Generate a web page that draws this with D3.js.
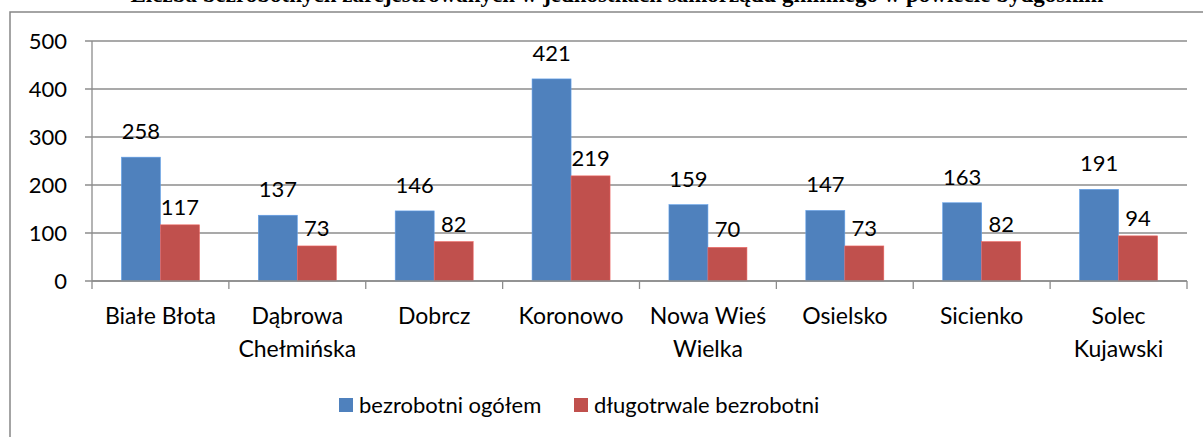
<!DOCTYPE html>
<html>
<head>
<meta charset="utf-8">
<script src="https://cdn.jsdelivr.net/npm/d3@7"></script>
<style>
  html, body { margin: 0; padding: 0; background: #fff; }
  svg { display: block; }
</style>
</head>
<body>
<svg id="chart" width="1203" height="437"></svg>
<script>
const titleText = "Liczba bezrobotnych zarejestrowanych w jednostkach samorządu gminnego w powiecie bydgoskim";
const categories = ["Białe Błota", "Dąbrowa Chełmińska", "Dobrcz", "Koronowo", "Nowa Wieś Wielka", "Osielsko", "Sicienko", "Solec Kujawski"];
const categoryLines = [["Białe Błota"], ["Dąbrowa", "Chełmińska"], ["Dobrcz"], ["Koronowo"], ["Nowa Wieś", "Wielka"], ["Osielsko"], ["Sicienko"], ["Solec", "Kujawski"]];
const seriesNames = ["bezrobotni ogółem", "długotrwale bezrobotni"];
const bezrobotniOgolem = [258, 137, 146, 421, 159, 147, 163, 191];
const dlugotrwaleBezrobotni = [117, 73, 82, 219, 70, 73, 82, 94];
const yTicks = [0, 100, 200, 300, 400, 500];

(function () {
const colors = ["#4F81BD", "#C0504D"];
const font = "Lato, 'Open Sans', sans-serif";
const svg = d3.select("#chart");

// title (cut off at the top edge, as in the source)
svg.append("text")
  .attr("x", 617).attr("y", 2)
  .attr("text-anchor", "middle")
  .style("font-family", "'Liberation Serif', 'Times New Roman', serif")
  .style("font-weight", "bold")
  .style("font-size", "23px")
  .text(titleText);

// chart frame
svg.append("rect")
  .attr("x", 10).attr("y", 12)
  .attr("width", 1203).attr("height", 440)
  .attr("fill", "#fff")
  .attr("stroke", "#868686").attr("stroke-width", 1.5);

const mLeft = 92, mRight = 1187, mTop = 41, mBottom = 281;

const x = d3.scaleBand().domain(categories).range([mLeft, mRight]).padding(0);
const y = d3.scaleLinear().domain([0, 500]).range([mBottom, mTop]);
const inner = d3.scaleBand().domain([0, 1]).range([0, x.bandwidth()]).paddingInner(0).paddingOuter(0.755);

// gridlines + y ticks
svg.append("g").selectAll("line").data(yTicks).join("line")
  .attr("x1", mLeft - 7).attr("x2", mRight)
  .attr("y1", d => y(d)).attr("y2", d => y(d))
  .attr("stroke", "#8c8c8c").attr("stroke-width", 1.3);

svg.append("g").selectAll("text").data(yTicks).join("text")
  .attr("x", mLeft - 25).attr("y", d => y(d))
  .attr("dy", "0.36em")
  .attr("text-anchor", "end")
  .style("font-family", font).style("font-size", "22px").attr("fill", "#000")
  .text(d => d);

// y axis line
svg.append("line")
  .attr("x1", mLeft).attr("x2", mLeft).attr("y1", mTop).attr("y2", mBottom)
  .attr("stroke", "#8c8c8c").attr("stroke-width", 1.3);

// bars
const series = [bezrobotniOgolem, dlugotrwaleBezrobotni];
const labelOffset = [18, 10];
series.forEach((vals, si) => {
  const g = svg.append("g");
  g.selectAll("rect").data(vals).join("rect")
    .attr("x", (d, i) => x(categories[i]) + inner(si))
    .attr("y", d => y(d))
    .attr("width", inner.bandwidth())
    .attr("height", d => y(0) - y(d))
    .attr("fill", colors[si])
    .attr("stroke", d3.color(colors[si]).brighter(0.6)).attr("stroke-width", 0.6);
  g.selectAll("text").data(vals).join("text")
    .attr("x", (d, i) => x(categories[i]) + inner(si) + inner.bandwidth() / 2)
    .attr("y", d => y(d) - labelOffset[si])
    .attr("text-anchor", "middle")
    .style("font-family", font).style("font-size", "22px").attr("fill", "#000")
    .text(d => d);
});

// x axis
svg.append("line")
  .attr("x1", mLeft).attr("x2", mRight).attr("y1", mBottom).attr("y2", mBottom)
  .attr("stroke", "#8c8c8c").attr("stroke-width", 1.3);
const boundaries = categories.map(c => x(c)).concat([mRight]);
svg.append("g").selectAll("line").data(boundaries).join("line")
  .attr("x1", d => d).attr("x2", d => d)
  .attr("y1", mBottom).attr("y2", mBottom + 8)
  .attr("stroke", "#8c8c8c").attr("stroke-width", 1.3);

const catG = svg.append("g").selectAll("text").data(categories).join("text")
  .attr("x", d => x(d) + x.bandwidth() / 2)
  .attr("y", 324)
  .attr("text-anchor", "middle")
  .style("font-family", font).style("font-size", "23px").attr("fill", "#000");
catG.each(function(d, i) {
  d3.select(this).selectAll("tspan").data(categoryLines[i]).join("tspan")
    .attr("x", x(d) + x.bandwidth() / 2)
    .attr("dy", (t, j) => j === 0 ? 0 : 33)
    .text(t => t);
});

// legend
const legendX = [339, 574];
seriesNames.forEach((name, si) => {
  svg.append("rect")
    .attr("x", legendX[si]).attr("y", 398)
    .attr("width", 14).attr("height", 14)
    .attr("fill", colors[si]);
  svg.append("text")
    .attr("x", legendX[si] + 20).attr("y", 413)
    .style("font-family", font).style("font-size", "22px").attr("fill", "#000")
    .text(name);
});
})();
</script>
</body>
</html>
